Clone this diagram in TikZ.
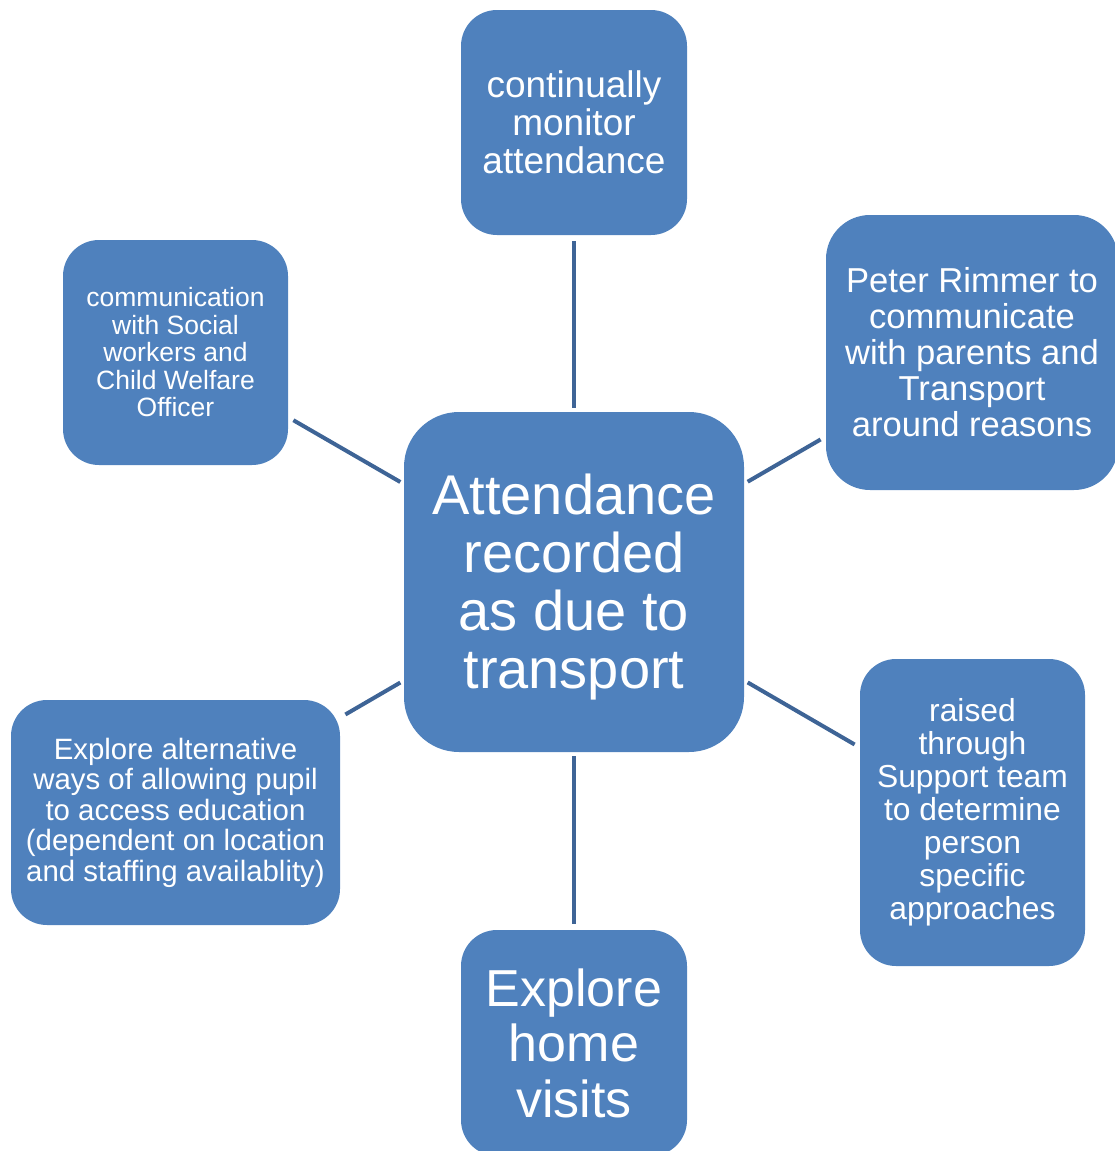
\documentclass[tikz,border=0pt]{standalone}
\usepackage{fontspec}
\setmainfont{Liberation Sans}
\definecolor{boxblue}{RGB}{79,129,189}
\definecolor{linkblue}{RGB}{62,100,150}
\tikzset{
  bubble/.style={fill=boxblue, draw=none, text=white, align=center, inner sep=0pt},
  link/.style={draw=linkblue, line width=4pt, shorten <=4pt, shorten >=6pt}
}
\newcommand{\fs}[2]{\fontsize{#1}{#2}\selectfont}
\begin{document}
\begin{tikzpicture}[x=1pt,y=-1pt]
\useasboundingbox (0,0) rectangle (1115,1151);
\clip (0,0) rectangle (1115,1151);
\node[bubble, minimum width=340pt, minimum height=340pt, rounded corners=55pt, font=\fs{56}{58}] (c) at (574,582) {\\[-8pt]Attendance\\recorded\\as due to\\transport};
\node[bubble, minimum width=226pt, minimum height=225pt, rounded corners=36pt, font=\fs{37}{38}] (t) at (574,122.5) {continually\\monitor\\attendance};
\node[bubble, minimum width=292pt, minimum height=275pt, rounded corners=44pt, font=\fs{34.6}{36}] (rt) at (972,352.5) {Peter Rimmer to\\communicate\\with parents and\\Transport\\around reasons};
\node[bubble, minimum width=225pt, minimum height=307pt, rounded corners=36pt, font=\fs{31.8}{33}] (rb) at (972.5,812.5) {raised\\through\\Support team\\to determine\\person\\specific\\approaches};
\node[bubble, minimum width=226pt, minimum height=226pt, rounded corners=36pt, font=\fs{52}{55.5}] (b) at (574,1043) {Explore\\home\\visits};
\node[bubble, minimum width=329pt, minimum height=225pt, rounded corners=36pt, font=\fs{29.4}{30.5}] (lb) at (175.5,812.5) {Explore alternative\\ways of allowing pupil\\to access education\\(dependent on location\\and staffing availablity)};
\node[bubble, minimum width=225pt, minimum height=225pt, rounded corners=36pt, font=\fs{26.5}{27.5}] (lt) at (175.5,352.5) {communication\\with Social\\workers and\\Child Welfare\\Officer};
\draw[link] (c) -- (t);
\draw[link] (c) -- (rt);
\draw[link] (c) -- (rb);
\draw[link] (c) -- (b);
\draw[link] (c) -- (lb);
\draw[link] (c) -- (lt);
\end{tikzpicture}
\end{document}
